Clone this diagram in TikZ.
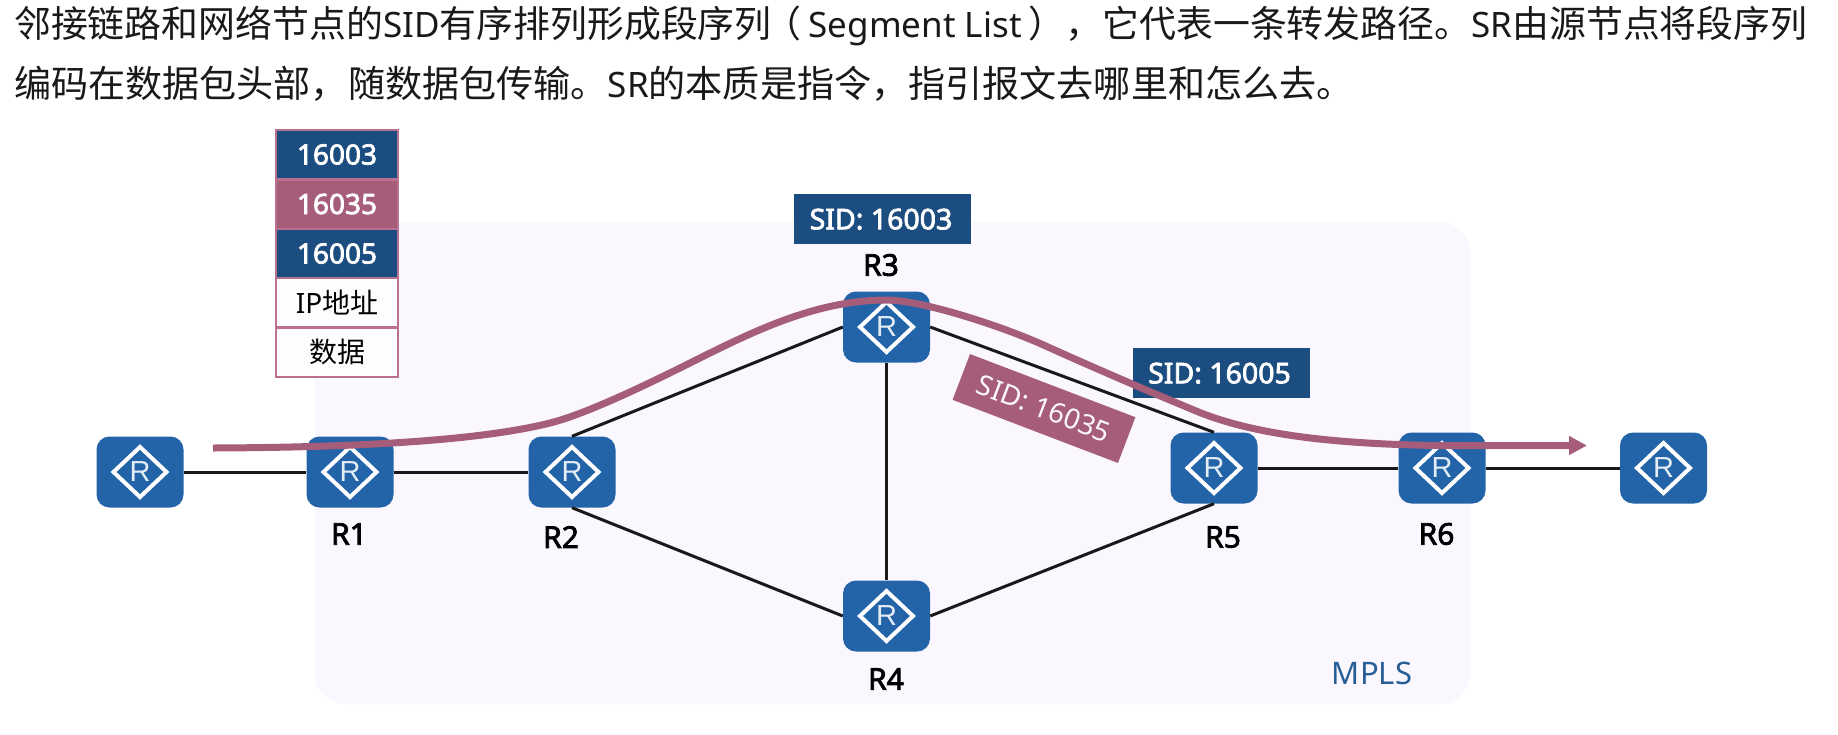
\documentclass[tikz,border=0pt]{standalone}
\usepackage{fontspec}
\setmainfont{Noto Sans}
\newfontfamily\cjk{Noto Sans CJK SC}
\newfontfamily\hcjk[Scale=1.06]{Noto Sans CJK SC}
\newfontfamily\hcjkb[Scale=1.054]{Noto Sans CJK SC}
\newfontfamily\semib[FakeBold=2.6]{Noto Sans}
\newfontfamily\routerfont{Liberation Sans}
\usetikzlibrary{arrows.meta}
\definecolor{navy}{HTML}{1B4D80}
\definecolor{mauve}{HTML}{A55D7A}
\definecolor{rblue}{HTML}{2363A8}
\definecolor{bgp}{HTML}{FBF7FE}
\definecolor{stackedge}{HTML}{B9718F}
\definecolor{mplstext}{HTML}{275E96}
\tikzset{
  rbox/.style={draw=none,fill=rblue,rounded corners=13pt,minimum width=87pt,minimum height=71pt,inner sep=0pt},
  rname/.style={font=\semib\fontsize{30}{30}\selectfont,text=black,inner sep=0pt},
  sidbox/.style={fill=navy,text=white,font=\semib\fontsize{28.5}{28.5}\selectfont,minimum width=177pt,minimum height=50pt,inner sep=0pt},
  cell/.style={draw=stackedge,line width=2pt,minimum width=122pt,minimum height=49pt,inner sep=0pt,font=\fontsize{28}{28}\selectfont},
  navycell/.style={cell,fill=navy,text=white,font=\semib\fontsize{28}{28}\selectfont},
  mauvecell/.style={cell,fill=mauve,text=white,font=\semib\fontsize{28}{28}\selectfont},
  link/.style={draw=black!90,line width=3pt},
  headline/.style={anchor=west,inner sep=0pt,font=\fontsize{35}{35}\selectfont,text=black!90},
}
\newcommand{\router}[2]{%
  \node[rbox] (#1) at (#2) {};
  \draw[white,line width=4pt,line join=miter] (#1.center) ++(26.5,0) -- ++(-26.5,25) -- ++(-26.5,-25) -- ++(26.5,-25) -- cycle;
  \node[inner sep=0pt,text=white!88!rblue,font=\routerfont\fontsize{29}{29}\selectfont] at (#1.center) {R};
}
\begin{document}
\begin{tikzpicture}[x=1pt,y=-1pt]
\useasboundingbox (0,0) rectangle (1838,734);
\node[fill=bgp,rounded corners=30pt,minimum width=1155pt,minimum height=482pt,inner sep=0pt] (mpls) at (892.5,463) {};
\node[headline] (l1) at (14,26) {{\hcjkb 邻接链路和网络节点的}SID{\hcjkb 有序排列形成段序列\hspace{-7pt}（\hspace{7pt}}Segment List\hspace{7pt}{\hcjkb ），它代表一条转发路径。}SR{\hcjkb 由源节点将段序列}};
\node[headline] (l2) at (14,84) {{\hcjk 编码在数据包头部，随数据包传输。}SR{\hcjk 的本质是指令，指引报文去哪里和怎么去。}};
% routers
\router{R0}{140,472}
\router{R1}{350,472}
\router{R2}{572,472}
\router{R3}{886.5,327}
\router{R4}{886.5,616}
\router{R5}{1214,468}
\router{R6}{1442,468}
\router{R7}{1663.5,468}
% links
\draw[link] (R0.east) -- (R1.west);
\draw[link] (R1.east) -- (R2.west);
\draw[link] (R2.north) -- (R3.west);
\draw[link] (R2.south) -- (R4.west);
\draw[link] (R3.east) -- (R5.north);
\draw[link] (R4.east) -- (R5.south);
\draw[link] (R3.south) -- (R4.north);
\draw[link] (R5.east) -- (R6.west);
\draw[link] (R6.east) -- (R7.west);
% labels
\node[rname] (n1) at (349,534) {R1};
\node[rname] (n2) at (561,537) {R2};
\node[rname] (n3) at (881,265) {R3};
\node[rname] (n4) at (886,679) {R4};
\node[rname] (n5) at (1223,537) {R5};
\node[rname] (n6) at (1436.5,534) {R6};
\node[inner sep=0pt,text=mplstext,font=\fontsize{31}{31}\selectfont] (mp) at (1372,673) {MPLS};
% stack
\node[navycell] (s1) at (337,154.5) {16003};
\node[mauvecell] (s2) at (337,204) {16035};
\node[navycell] (s3) at (337,253.5) {16005};
\node[cell,fill=white!60!bgp] (s4) at (337,302.5) {IP{\cjk 地址}};
\node[cell,fill=white!60!bgp] (s5) at (337,352) {\cjk 数据};
% SID boxes
\node[sidbox,text depth=0pt] (a) at (882.5,219) {\hspace{-3pt}SID: 16003};
\node[sidbox,text depth=0pt] (b) at (1221,373) {\hspace{-3pt}SID: 16005};
\node[fill=mauve,text=white!95!mauve,rotate=-20.9,minimum width=177pt,minimum height=49pt,inner sep=0pt,font=\fontsize{28}{28}\selectfont] (c) at (1044,408.5) {SID: 16035};
% path
\coordinate (pstart) at (213,448);
\coordinate (pend) at (1587,445.5);
\draw[mauve,line width=7pt,-{Triangle[length=18pt,width=18pt]}]
 (pstart) .. controls (330,447.5) and (470,443) .. (550,423)
 .. controls (590,413) and (660,378) .. (700,358)
 .. controls (760,328) and (820,300) .. (887,300)
 .. controls (920,300) and (1000,325) .. (1048,347)
 .. controls (1090,366) and (1150,392) .. (1201,413)
 .. controls (1250,432) and (1320,444) .. (1440,445.5)
 -- (pend);
\end{tikzpicture}
\end{document}
